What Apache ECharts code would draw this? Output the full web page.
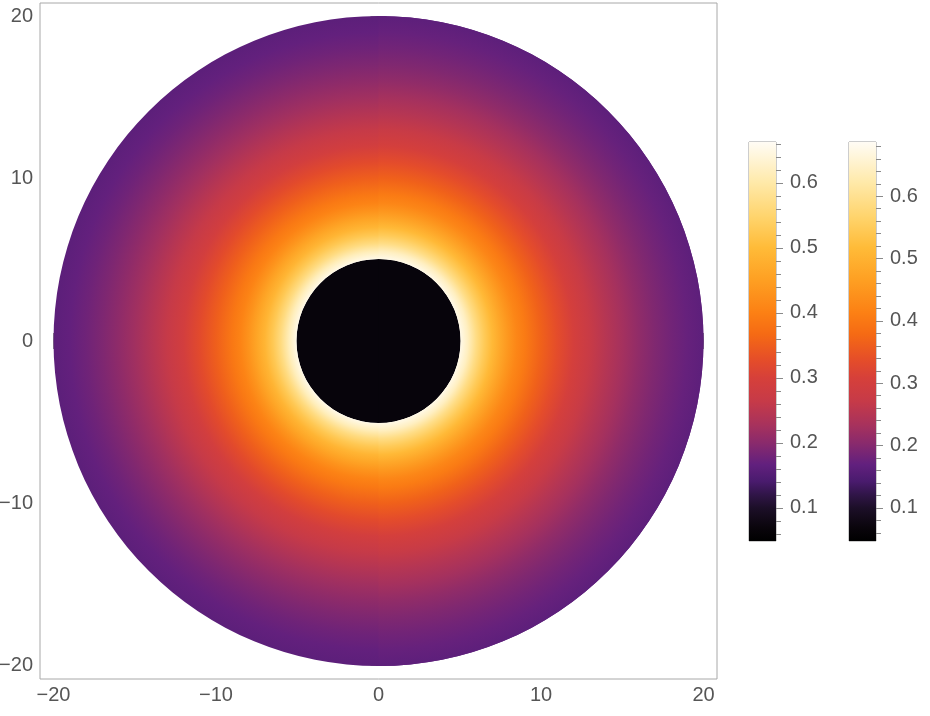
<!DOCTYPE html>
<html><head><meta charset="utf-8">
<script src="https://cdn.jsdelivr.net/npm/echarts@6/dist/echarts.min.js"></script>
<style>html,body{margin:0;padding:0;background:#fff}#c{width:930px;height:716px}</style>
</head><body><div id="c"></div>
<script>
// ---------------- data ----------------
const radii          = [5, 5.5, 6, 6.5, 7, 7.5, 8, 8.5, 9, 10, 11, 12, 13, 14, 15, 16, 17, 18, 19, 20];
const intensityRight = [0.655, 0.62, 0.57, 0.53, 0.497, 0.465, 0.435, 0.41, 0.392, 0.355, 0.325, 0.295, 0.268, 0.245, 0.225, 0.207, 0.192, 0.18, 0.17, 0.162];
const intensityLeft  = [0.655, 0.615, 0.565, 0.525, 0.49, 0.46, 0.43, 0.405, 0.388, 0.352, 0.322, 0.29, 0.264, 0.242, 0.222, 0.205, 0.19, 0.178, 0.168, 0.16];
const shadowRadius   = 5.05;
const outerRadius    = 20;
const halves         = ['right', 'left'];
const axisRange      = [-20.83, 20.83];
const axisMajor      = [-20, -10, 0, 10, 20];
const axisMinor      = [-18, -16, -14, -12, -8, -6, -4, -2, 2, 4, 6, 8, 12, 14, 16, 18];
const bar1Range      = [0.049, 0.663];
const bar2Range      = [0.047, 0.687];
const barMajor       = [0.1, 0.2, 0.3, 0.4, 0.5, 0.6];
const bar1Minor      = [0.06, 0.08, 0.12, 0.14, 0.16, 0.18, 0.22, 0.24, 0.26, 0.28, 0.32, 0.34, 0.36, 0.38, 0.42, 0.44, 0.46, 0.48, 0.52, 0.54, 0.56, 0.58, 0.62, 0.64, 0.66];
const bar2Minor      = bar1Minor.concat([0.68]);

// ---------------- style ----------------
const cmapStops = [
  [0, '#000000'], [0.034, '#0a050c'], [0.083, '#1c0f28'], [0.116, '#301548'], [0.150, '#4a1b6e'],
  [0.192, '#62207e'], [0.246, '#8a2a6c'], [0.292, '#a8325c'], [0.350, '#c63a48'], [0.409, '#d6403a'],
  [0.451, '#e44c2a'], [0.518, '#f56a14'], [0.572, '#fc8014'], [0.653, '#fe9f22'], [0.735, '#ffbb38'],
  [0.809, '#ffd36a'], [0.897, '#ffe9a8'], [1, '#fffcf5']
];
function hex(c){return [parseInt(c.substr(1,2),16),parseInt(c.substr(3,2),16),parseInt(c.substr(5,2),16)];}
function cmap(t){
  t=Math.max(0,Math.min(1,t));
  for(let i=1;i<cmapStops.length;i++){
    if(t<=cmapStops[i][0]){
      const a=cmapStops[i-1],b=cmapStops[i];
      const f=(t-a[0])/(b[0]-a[0]);const ca=hex(a[1]),cb=hex(b[1]);
      return 'rgb('+ca.map((v,k)=>Math.round(v+(cb[k]-v)*f)).join(',')+')';
    }
  }
  return cmapStops[cmapStops.length-1][1];
}
const valueToT = v => (v - bar1Range[0]) / (bar1Range[1] - bar1Range[0]);

const G = {left: 40, top: 3, width: 677, height: 676};
const pxPerUnit = G.width / (axisRange[1] - axisRange[0]);
const cx = G.left + G.width / 2, cy = G.top + G.height / 2;
const R = outerRadius * pxPerUnit;

function diskGradient(profile){
  return {type: 'radial', x: cx, y: cy, r: R, global: true,
    colorStops: radii.map((r, i) => ({offset: r / outerRadius, color: cmap(valueToT(profile[i]))}))};
}
const barGradient = {type: 'linear', x: 0, y: 1, x2: 0, y2: 0,
  colorStops: cmapStops.map(s => ({offset: s[0], color: s[1]}))};

const FONT = 'Liberation Sans';
const LBL = {fontSize: 20, color: '#555', fontFamily: FONT};
const TICKC = '#8a8a8a';
const CORE = '#07040b';
const fmt = v => v < 0 ? '\u2212' + Math.abs(v) : String(v);

function frameAxis(dim, pos, major, withLabels){
  return {
    type: 'value', gridIndex: 0, position: pos, min: axisRange[0], max: axisRange[1],
    axisLine: {show: false}, splitLine: {show: false},
    axisTick: {show: true, inside: true, length: major ? 8 : 4, customValues: major ? axisMajor : axisMinor,
      lineStyle: {color: TICKC, width: 1}},
    axisLabel: withLabels ? Object.assign({show: true, customValues: axisMajor, formatter: fmt, margin: dim === 'x' ? 6 : 7}, LBL) : {show: false}
  };
}
function barAxis(grid, range, major, minor, isMajor){
  return {
    type: 'value', gridIndex: grid, position: 'right', min: range[0], max: range[1],
    axisLine: {show: false}, splitLine: {show: false},
    axisTick: {show: true, inside: false, length: isMajor ? 7 : 5, customValues: isMajor ? major : minor,
      lineStyle: {color: TICKC, width: 1}},
    axisLabel: isMajor ? Object.assign({show: true, customValues: major, margin: 14, formatter: v => v.toFixed(1)}, LBL) : {show: false}
  };
}
const catAxis = g => ({type: 'category', gridIndex: g, data: ['c'], show: false});
const hiddenParts = {axisLine:{show:false}, axisTick:{show:false}, axisLabel:{show:false}, splitLine:{show:false}};

const option = {
  animation: false,
  backgroundColor: '#fff',
  grid: [
    Object.assign({show: true, borderColor: '#a8a8a8', borderWidth: 1, backgroundColor: 'transparent', containLabel: false, outerBoundsMode: 'none'}, G),
    {left: 749, top: 142, width: 27, height: 399, show: true, borderColor: '#9a9a9a', borderWidth: 1, containLabel: false, outerBoundsMode: 'none'},
    {left: 849, top: 142, width: 27, height: 399, show: true, borderColor: '#9a9a9a', borderWidth: 1, containLabel: false, outerBoundsMode: 'none'}
  ],
  xAxis: [
    frameAxis('x', 'bottom', true, true), frameAxis('x', 'bottom', false, false),
    frameAxis('x', 'top', true, false), frameAxis('x', 'top', false, false),
    catAxis(1), catAxis(2)
  ],
  yAxis: [
    frameAxis('y', 'left', true, true), frameAxis('y', 'left', false, false),
    frameAxis('y', 'right', true, false), frameAxis('y', 'right', false, false),
    barAxis(1, bar1Range, barMajor, bar1Minor, true), barAxis(1, bar1Range, barMajor, bar1Minor, false),
    barAxis(2, bar2Range, barMajor, bar2Minor, true), barAxis(2, bar2Range, barMajor, bar2Minor, false)
  ],
  polar: [{center: [cx, cy], radius: R}, {center: [cx, cy], radius: R}],
  radiusAxis: [
    Object.assign({polarIndex: 0, min: 0, max: outerRadius, show: false}, hiddenParts),
    Object.assign({polarIndex: 1, min: 0, max: outerRadius, show: false}, hiddenParts)
  ],
  angleAxis: [
    // polar 0: whole circle, carries the left-half profile underneath
    Object.assign({polarIndex: 0, type: 'category', data: ['left'], startAngle: 90, show: false}, hiddenParts),
    // polar 1: two halves, only the right half is drawn on top
    Object.assign({polarIndex: 1, type: 'category', data: halves, startAngle: 90, clockwise: true, show: false}, hiddenParts)
  ],
  series: [
    {type: 'bar', coordinateSystem: 'polar', polarIndex: 0, stack: 'full', barCategoryGap: '0%', silent: true,
      data: [{value: shadowRadius, itemStyle: {color: CORE}}]},
    {type: 'bar', coordinateSystem: 'polar', polarIndex: 0, stack: 'full', barCategoryGap: '0%', silent: true,
      data: [{value: outerRadius - shadowRadius, itemStyle: {color: diskGradient(intensityLeft)}}]},
    {type: 'bar', coordinateSystem: 'polar', polarIndex: 1, stack: 'half', barCategoryGap: '0%', silent: true,
      data: [{value: shadowRadius, itemStyle: {color: CORE}}, '-']},
    {type: 'bar', coordinateSystem: 'polar', polarIndex: 1, stack: 'half', barCategoryGap: '0%', silent: true,
      data: [{value: outerRadius - shadowRadius, itemStyle: {color: diskGradient(intensityRight)}}, '-']},
    {type: 'bar', xAxisIndex: 4, yAxisIndex: 4, stack: 'cb1', barWidth: '100%', silent: true,
      data: [{value: bar1Range[0], itemStyle: {color: 'rgba(0,0,0,0)'}}]},
    {type: 'bar', xAxisIndex: 4, yAxisIndex: 4, stack: 'cb1', barWidth: '100%', silent: true,
      data: [{value: bar1Range[1] - bar1Range[0], itemStyle: {color: barGradient}}]},
    {type: 'bar', xAxisIndex: 5, yAxisIndex: 6, stack: 'cb2', barWidth: '100%', silent: true,
      data: [{value: bar2Range[0], itemStyle: {color: 'rgba(0,0,0,0)'}}]},
    {type: 'bar', xAxisIndex: 5, yAxisIndex: 6, stack: 'cb2', barWidth: '100%', silent: true,
      data: [{value: bar2Range[1] - bar2Range[0], itemStyle: {color: barGradient}}]}
  ]
};
const chart = echarts.init(document.getElementById('c'), null, {renderer: 'canvas'});
chart.setOption(option);
</script>
</body></html>
